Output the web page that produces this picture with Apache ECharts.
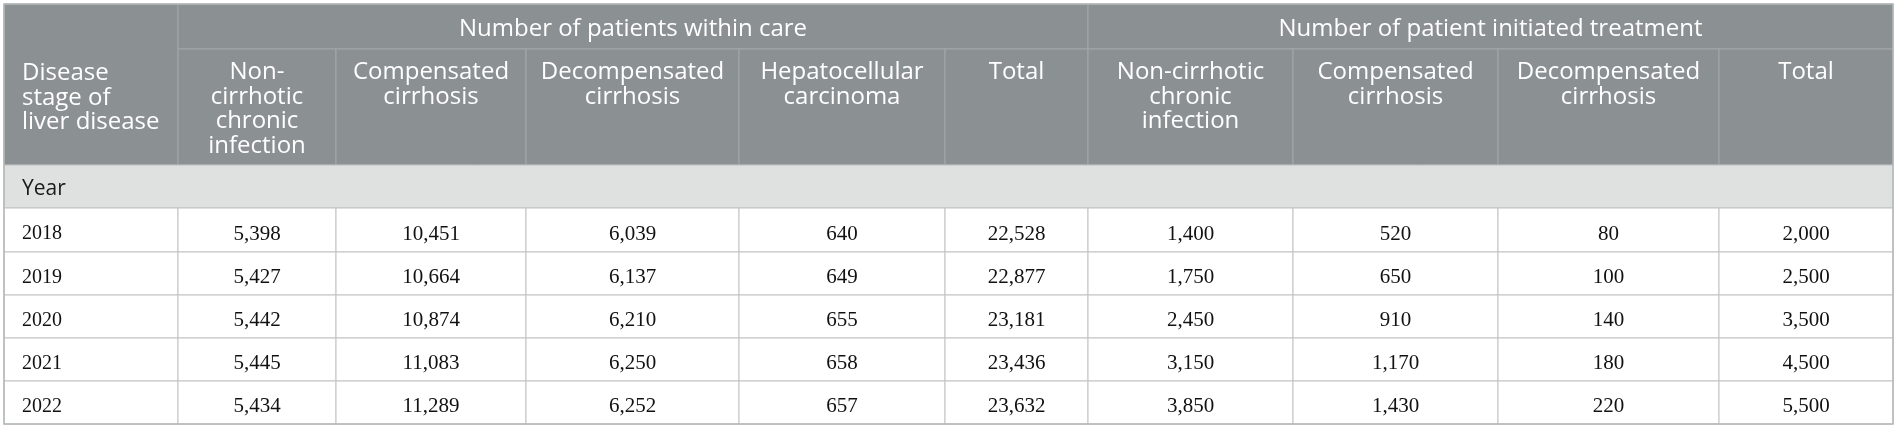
<!doctype html>
<html lang="en">
<head>
    <meta charset="UTF-8">
    <title>Patients within care and initiated treatment by disease stage</title>
    <script type="text/javascript" src="https://cdn.jsdelivr.net/npm/echarts@6/dist/echarts.min.js"></script>
    <style>
        html, body { margin: 0; padding: 0; background: #fff; }
        #container { width: 1897px; height: 427px; }
    </style>
</head>
<body>
<div id="container"></div>
<script type="text/javascript">

    // table content
    var groupLabels = ['Number of patients within care', 'Number of patient initiated treatment'];
    var stubLabel = 'Disease\nstage of\nliver disease';
    var sectionLabel = 'Year';
    var columnLabels = [
        'Non-\ncirrhotic\nchronic\ninfection',
        'Compensated\ncirrhosis',
        'Decompensated\ncirrhosis',
        'Hepatocellular\ncarcinoma',
        'Total',
        'Non-cirrhotic\nchronic\ninfection',
        'Compensated\ncirrhosis',
        'Decompensated\ncirrhosis',
        'Total'
    ];
    var years = ['2018', '2019', '2020', '2021', '2022'];
    var careNonCirrhotic = [5398, 5427, 5442, 5445, 5434];
    var careCompensated = [10451, 10664, 10874, 11083, 11289];
    var careDecompensated = [6039, 6137, 6210, 6250, 6252];
    var careHcc = [640, 649, 655, 658, 657];
    var careTotal = [22528, 22877, 23181, 23436, 23632];
    var treatNonCirrhotic = [1400, 1750, 2450, 3150, 3850];
    var treatCompensated = [520, 650, 910, 1170, 1430];
    var treatDecompensated = [80, 100, 140, 180, 220];
    var treatTotal = [2000, 2500, 3500, 4500, 5500];

    // layout (pixel grid of the table)
    var colEdges = [4, 178, 336, 526, 739, 945, 1088, 1293, 1498, 1719, 1893];
    var rowEdges = [4, 49, 165, 208, 252, 295, 338, 381, 424];
    var careSpan = [1, 6];   // columns covered by the first group
    var treatSpan = [6, 10];

    var headFont = '400 24px "Open Sans"';
    var styles = {
        group: {fill: '#8b9093', stroke: '#a3a7a9', color: '#ffffff', font: headFont, align: 'center', vAlign: 'middle', dy: 3},
        colHead: {fill: '#8b9093', stroke: '#a3a7a9', color: '#ffffff', font: headFont, align: 'center', vAlign: 'top', lineHeight: 24.5, dy: 11},
        stub: {fill: '#8b9093', stroke: '#a3a7a9', color: '#ffffff', font: headFont, align: 'left', vAlign: 'top', lineHeight: 24.5, dy: 57},
        section: {fill: '#dfe1e0', stroke: '#bdbfbf', color: '#1a1a1a', font: '400 21px "Open Sans"', align: 'left', vAlign: 'middle', dy: 3},
        rowHead: {fill: '#ffffff', stroke: '#c2c2c2', color: '#111111', font: '20px "Liberation Serif"', align: 'left', vAlign: 'middle', dy: 4},
        value: {fill: '#ffffff', stroke: '#c2c2c2', color: '#111111', font: '21px "Liberation Serif"', align: 'center', vAlign: 'middle', dy: 4}
    };

    var bodyColumns = [careNonCirrhotic, careCompensated, careDecompensated, careHcc, careTotal,
        treatNonCirrhotic, treatCompensated, treatDecompensated, treatTotal];

    var cells = [];

    function addCell(c0, c1, r0, r1, text, kind) {
        cells.push({value: [colEdges[c0], colEdges[c1], rowEdges[r0], rowEdges[r1]], text: text, kind: kind});
    }

    function fmt(n) {
        return n.toString().replace(/\B(?=(\d{3})+(?!\d))/g, ',');
    }

    addCell(0, 1, 0, 2, stubLabel, 'stub');
    addCell(careSpan[0], careSpan[1], 0, 1, groupLabels[0], 'group');
    addCell(treatSpan[0], treatSpan[1], 0, 1, groupLabels[1], 'group');
    for (var c = 0; c < columnLabels.length; c++) {
        addCell(c + 1, c + 2, 1, 2, columnLabels[c], 'colHead');
    }
    addCell(0, colEdges.length - 1, 2, 3, sectionLabel, 'section');
    for (var r = 0; r < years.length; r++) {
        addCell(0, 1, r + 3, r + 4, years[r], 'rowHead');
        for (var k = 0; k < bodyColumns.length; k++) {
            addCell(k + 1, k + 2, r + 3, r + 4, fmt(bodyColumns[k][r]), 'value');
        }
    }

    function renderCell(params, api) {
        var p0 = api.coord([api.value(0), api.value(2)]);
        var p1 = api.coord([api.value(1), api.value(3)]);
        var cell = cells[params.dataIndex];
        var st = styles[cell.kind];
        var w = p1[0] - p0[0];
        var h = p1[1] - p0[1];
        var tx, ty;
        if (st.align === 'left') {
            tx = p0[0] + 18;
        } else {
            tx = p0[0] + w / 2;
        }
        if (st.vAlign === 'top') {
            ty = p0[1] + st.dy;
        } else {
            ty = p0[1] + h / 2 + st.dy;
        }
        return {
            type: 'group',
            children: [{
                type: 'rect',
                shape: {x: p0[0], y: p0[1], width: w, height: h},
                style: {fill: st.fill, stroke: st.stroke, lineWidth: 1}
            }, {
                type: 'text',
                style: {
                    text: cell.text,
                    x: tx,
                    y: ty,
                    fill: st.color,
                    font: st.font,
                    align: st.align,
                    verticalAlign: st.vAlign,
                    lineHeight: st.lineHeight
                },
                z2: 10
            }]
        };
    }

    var dom = document.getElementById('container');
    var myChart = echarts.init(dom);
    var option = {
        animation: false,
        grid: {left: 0, right: 0, top: 0, bottom: 0},
        xAxis: {type: 'value', min: 0, max: 1897, show: false},
        yAxis: {type: 'value', min: 0, max: 427, inverse: true, show: false},
        series: [{
            type: 'custom',
            renderItem: renderCell,
            encode: {x: [0, 1], y: [2, 3]},
            data: cells,
            silent: true
        }, {
            // outer frame of the table
            type: 'custom',
            renderItem: function (params, api) {
                var p0 = api.coord([api.value(0), api.value(2)]);
                var p1 = api.coord([api.value(1), api.value(3)]);
                return {
                    type: 'rect',
                    shape: {x: p0[0], y: p0[1], width: p1[0] - p0[0], height: p1[1] - p0[1]},
                    style: {fill: 'none', stroke: '#b4b8b8', lineWidth: 1.5}
                };
            },
            encode: {x: [0, 1], y: [2, 3]},
            data: [[colEdges[0], colEdges[colEdges.length - 1], rowEdges[0], rowEdges[rowEdges.length - 1]]],
            silent: true,
            z: 5
        }]
    };
    myChart.setOption(option, true);

</script>
</body>
</html>
